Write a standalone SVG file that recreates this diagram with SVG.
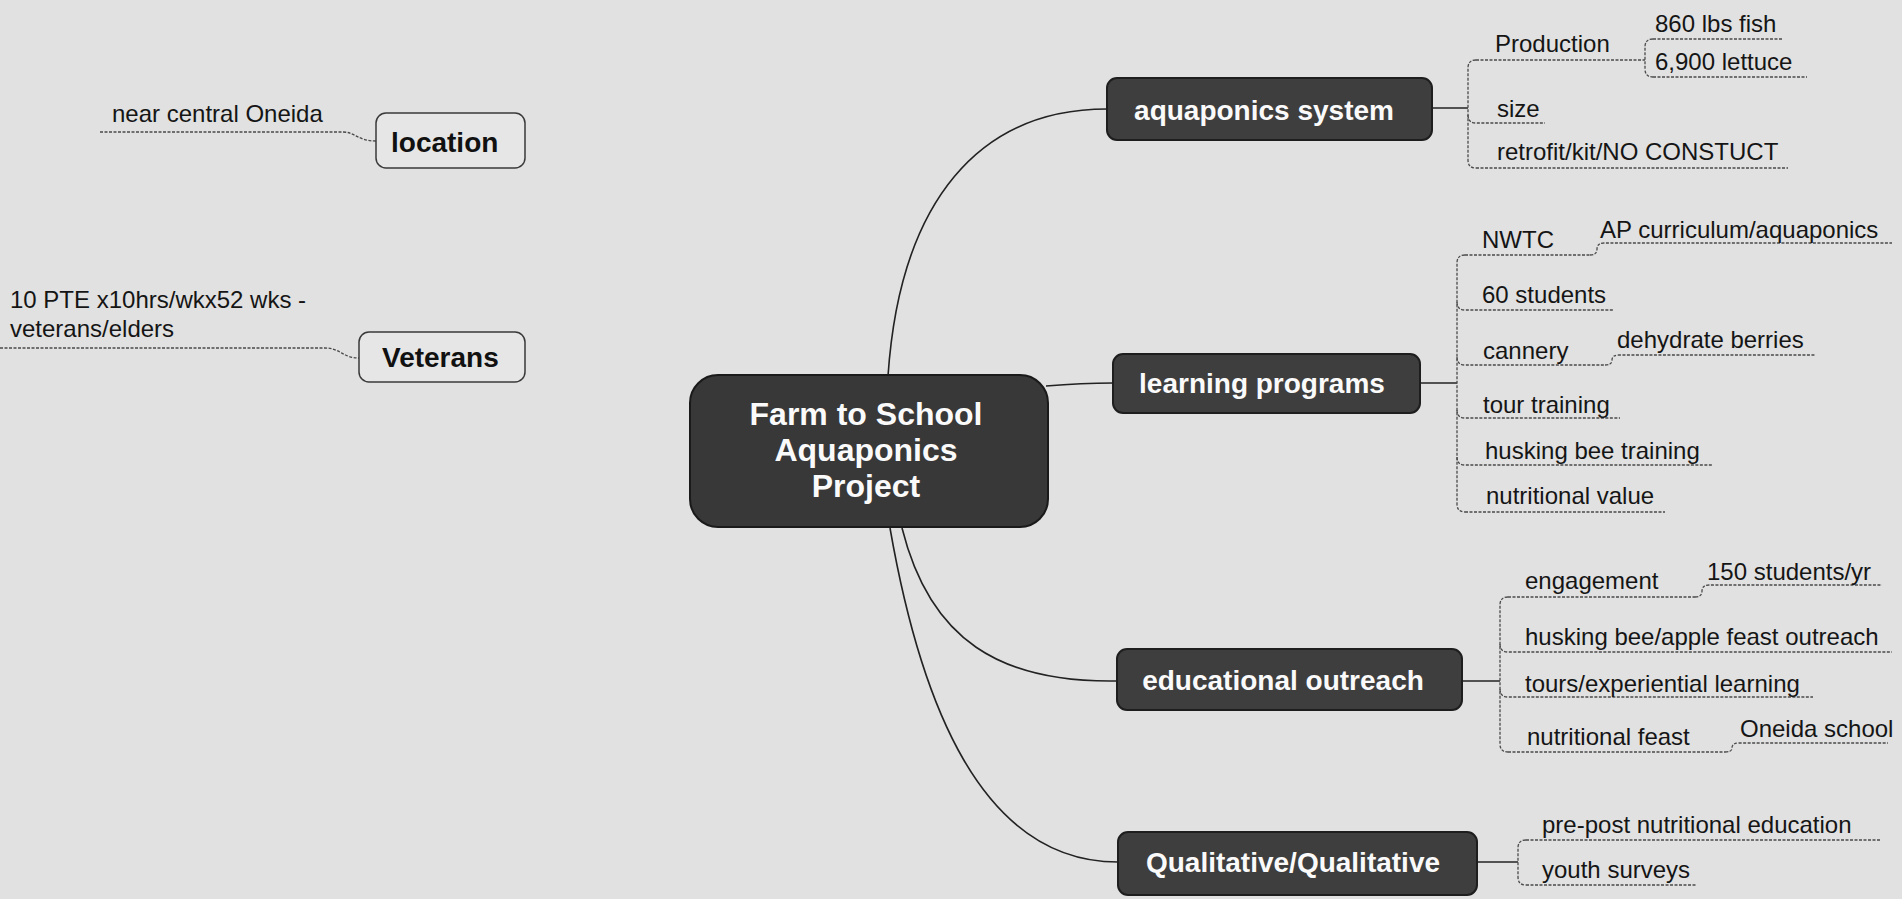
<svg xmlns="http://www.w3.org/2000/svg" width="1902" height="899" viewBox="0 0 1902 899">
<style>
.bg{fill:#e1e1e1}
.main rect{fill:#3e3e3e;stroke:#1e1e1e;stroke-width:2}
.main text{font-family:"Liberation Sans",Arial,sans-serif;font-weight:bold;font-size:28px;fill:#fafafa;text-anchor:middle}
.center rect{fill:#383838;stroke:#1a1a1a;stroke-width:2}
.center text{font-family:"Liberation Sans",Arial,sans-serif;font-weight:bold;font-size:32px;fill:#fafafa;text-anchor:middle}
.side rect{fill:#e6e6e6;stroke:#3a3a3a;stroke-width:1.5}
.side text{font-family:"Liberation Sans",Arial,sans-serif;font-weight:bold;font-size:28px;fill:#111}
.leaf text{font-family:"Liberation Sans",Arial,sans-serif;font-size:24px;fill:#151515}
.conn{fill:none;stroke:#222;stroke-width:1.6}
.ul{fill:none;stroke:#4a4a4a;stroke-width:1.3;stroke-dasharray:3 1.5}
</style>
<rect class="bg" x="0" y="0" width="1902" height="899"/>

<g id="connectors">
  <path class="conn" d="M888 376 C900 200 980 109 1107 109"/>
  <path class="conn" d="M1046 386 C1070 384 1090 383 1113 383"/>
  <path class="conn" d="M902 528 C930 640 1000 683 1117 681"/>
  <path class="conn" d="M890 528 C920 700 980 862 1118 862"/>
  <!-- aquaponics system -->
  <path class="conn" d="M1432 108 H1468"/>
  <path class="ul" d="M1476 60 Q1468 60 1468 68 V160 Q1468 168 1476 168"/>
  <path class="ul" d="M1476 60 H1638"/>
  <path class="ul" d="M1468 115 Q1468 123 1476 123 H1545"/>
  <path class="ul" d="M1476 168 H1788"/>
  <path class="ul" d="M1638 60 H1645"/>
  <path class="ul" d="M1653 39 Q1645 39 1645 47 V69 Q1645 77 1653 77"/>
  <path class="ul" d="M1653 39 H1783"/>
  <path class="ul" d="M1653 77 H1807"/>
  <!-- learning programs -->
  <path class="conn" d="M1420 383 H1457"/>
  <path class="ul" d="M1465 255 Q1457 255 1457 263 V504 Q1457 512 1465 512"/>
  <path class="ul" d="M1465 255 H1590"/>
  <path class="ul" d="M1457 302 Q1457 310 1465 310 H1613"/>
  <path class="ul" d="M1457 357 Q1457 365 1465 365 H1605"/>
  <path class="ul" d="M1457 410 Q1457 418 1465 418 H1620"/>
  <path class="ul" d="M1457 457 Q1457 465 1465 465 H1712"/>
  <path class="ul" d="M1465 512 H1665"/>
  <path class="ul" d="M1590 255 Q1597 255 1597 249 Q1597 243 1604 243 H1892"/>
  <path class="ul" d="M1605 365 Q1612 365 1612 360 Q1612 355 1619 355 H1815"/>
  <!-- educational outreach -->
  <path class="conn" d="M1462 681 H1500"/>
  <path class="ul" d="M1508 597 Q1500 597 1500 605 V744 Q1500 752 1508 752"/>
  <path class="ul" d="M1508 597 H1695"/>
  <path class="ul" d="M1500 644 Q1500 652 1508 652 H1892"/>
  <path class="ul" d="M1500 689 Q1500 697 1508 697 H1813"/>
  <path class="ul" d="M1508 752 H1725"/>
  <path class="ul" d="M1695 597 Q1702 597 1702 591 Q1702 585 1709 585 H1882"/>
  <path class="ul" d="M1725 752 Q1732 752 1732 748 Q1732 743 1739 743 H1888"/>
  <!-- Qualitative -->
  <path class="conn" d="M1477 862 H1518"/>
  <path class="ul" d="M1526 840 Q1518 840 1518 848 V877 Q1518 885 1526 885"/>
  <path class="ul" d="M1526 840 H1880"/>
  <path class="ul" d="M1526 885 H1697"/>
  <!-- left side -->
  <path class="ul" d="M100 132 H343 C355 132 358 141 376 141"/>
  <path class="ul" d="M0 348 H325 C340 348 343 358 359 358"/>
</g>

<g id="center" class="center">
  <rect x="690" y="375" width="358" height="152" rx="28"/>
  <text x="866" y="425">Farm to School</text>
  <text x="866" y="461">Aquaponics</text>
  <text x="866" y="497">Project</text>
</g>

<g id="aquaponics-system" class="main">
  <rect x="1107" y="78" width="325" height="62" rx="10"/>
  <text x="1264" y="120">aquaponics system</text>
</g>
<g id="learning-programs" class="main">
  <rect x="1113" y="354" width="307" height="59" rx="10"/>
  <text x="1262" y="393">learning programs</text>
</g>
<g id="educational-outreach" class="main">
  <rect x="1117" y="649" width="345" height="61" rx="10"/>
  <text x="1283" y="690">educational outreach</text>
</g>
<g id="qualitative" class="main">
  <rect x="1118" y="832" width="359" height="63" rx="10"/>
  <text x="1293" y="872">Qualitative/Qualitative</text>
</g>

<g id="location" class="side">
  <rect x="376" y="113" width="149" height="55" rx="10"/>
  <text x="391" y="152">location</text>
</g>
<g id="veterans" class="side">
  <rect x="359" y="332" width="166" height="50" rx="10"/>
  <text x="382" y="367">Veterans</text>
</g>

<g id="leaf-near-central-oneida" class="leaf"><text x="112" y="122">near central Oneida</text></g>
<g id="leaf-pte" class="leaf"><text x="10" y="308">10 PTE x10hrs/wkx52 wks -</text><text x="10" y="337">veterans/elders</text></g>

<g id="leaf-production" class="leaf"><text x="1495" y="52">Production</text></g>
<g id="leaf-860" class="leaf"><text x="1655" y="32">860 lbs fish</text></g>
<g id="leaf-6900" class="leaf"><text x="1655" y="70">6,900 lettuce</text></g>
<g id="leaf-size" class="leaf"><text x="1497" y="117">size</text></g>
<g id="leaf-retrofit" class="leaf"><text x="1497" y="160">retrofit/kit/NO CONSTUCT</text></g>

<g id="leaf-nwtc" class="leaf"><text x="1482" y="248">NWTC</text></g>
<g id="leaf-ap" class="leaf"><text x="1600" y="238">AP curriculum/aquaponics</text></g>
<g id="leaf-60" class="leaf"><text x="1482" y="303">60 students</text></g>
<g id="leaf-cannery" class="leaf"><text x="1483" y="359">cannery</text></g>
<g id="leaf-dehydrate" class="leaf"><text x="1617" y="348">dehydrate berries</text></g>
<g id="leaf-tour" class="leaf"><text x="1483" y="413">tour training</text></g>
<g id="leaf-husking-training" class="leaf"><text x="1485" y="459">husking bee training</text></g>
<g id="leaf-nutritional-value" class="leaf"><text x="1486" y="504">nutritional value</text></g>

<g id="leaf-engagement" class="leaf"><text x="1525" y="589">engagement</text></g>
<g id="leaf-150" class="leaf"><text x="1707" y="580">150 students/yr</text></g>
<g id="leaf-husking-outreach" class="leaf"><text x="1525" y="645">husking bee/apple feast outreach</text></g>
<g id="leaf-tours" class="leaf"><text x="1525" y="692">tours/experiential learning</text></g>
<g id="leaf-feast" class="leaf"><text x="1527" y="745">nutritional feast</text></g>
<g id="leaf-oneida-school" class="leaf"><text x="1740" y="737">Oneida school</text></g>

<g id="leaf-prepost" class="leaf"><text x="1542" y="833">pre-post nutritional education</text></g>
<g id="leaf-youth" class="leaf"><text x="1542" y="878">youth surveys</text></g>
</svg>
